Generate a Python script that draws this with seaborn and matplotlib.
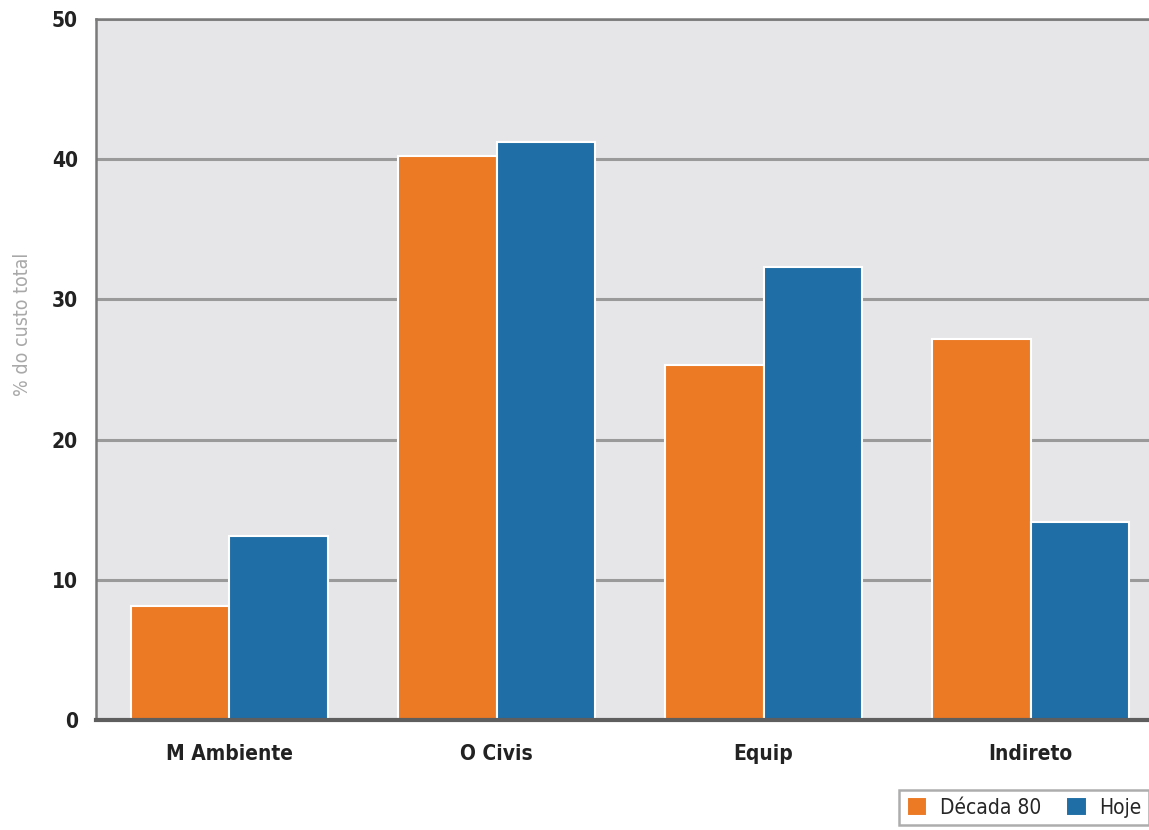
import matplotlib
matplotlib.use("Agg")
import matplotlib.pyplot as plt
from matplotlib import font_manager
import seaborn as sns
import pandas as pd

# ==== DATA ====
categories = ["M Ambiente", "O Civis", "Equip", "Indireto"]
series_names = ["Década 80", "Hoje"]
decada80 = [8.1, 40.2, 25.3, 27.2]
hoje = [13.1, 41.2, 32.3, 14.1]
y_ticks = [0, 10, 20, 30, 40, 50]

ORANGE = "#ec7a24"
BLUE = "#1f6ea5"

df = pd.DataFrame({
    "categoria": categories * 2,
    "serie": [series_names[0]] * len(categories) + [series_names[1]] * len(categories),
    "valor": decada80 + hoje,
})

sns.set_theme(style="white")
names = {f.name for f in font_manager.fontManager.ttflist}
print(sorted(n for n in names if "Cond" in n or "Narrow" in n))
plt.rcParams["font.family"] = ["DejaVu Sans"]
plt.rcParams["font.stretch"] = "condensed"

fig = plt.figure(figsize=(11.49, 8.30), dpi=100)
ax = fig.add_axes([96 / 1149, 1 - 720 / 830, 1068 / 1149, 701 / 830])
ax.set_facecolor("#e6e6e9")

sns.barplot(data=df, x="categoria", y="valor", hue="serie", order=categories,
            hue_order=series_names, palette=[ORANGE, BLUE], saturation=1, width=0.74,
            edgecolor="white", linewidth=1.5, ax=ax, zorder=3)

ax.set_ylim(0, 50)
ax.set_xlim(-0.5, 3.5)
ax.set_yticks(y_ticks)
ax.set_yticklabels([str(t) for t in y_ticks], fontsize=15, fontweight="bold", color="#222222")
ax.tick_params(axis="x", labelsize=15, colors="#222222", length=0, pad=17)
ax.tick_params(axis="y", length=0, pad=13)
for lab in ax.get_xticklabels():
    lab.set_fontweight("bold")

ax.grid(axis="y", color="#9a9a9a", linewidth=2.2, zorder=1)
ax.set_axisbelow(True)

for side in ["left", "top"]:
    ax.spines[side].set_color("#7a7a7a")
    ax.spines[side].set_linewidth(1.8)
ax.spines["right"].set_visible(False)
ax.spines["bottom"].set_color("#5e5e5e")
ax.spines["bottom"].set_linewidth(3)
ax.spines["bottom"].set_zorder(5)

ax.set_xlabel("")
ax.set_ylabel("% do custo total", fontsize=14, color="#a8a8a8")
ax.yaxis.set_label_coords(-0.06, 0.565)

handles, labels = ax.get_legend_handles_labels()
ax.legend(handles, labels, loc="upper right", bbox_to_anchor=(1.0, 1 - 790 / 830),
          bbox_transform=fig.transFigure, ncol=2, frameon=True, fancybox=False,
          edgecolor="#999999", fontsize=15, handlelength=1.0, handleheight=1.0,
          columnspacing=1.2, handletextpad=0.6, borderpad=0.35, borderaxespad=0)
leg = ax.get_legend()
leg.get_frame().set_linewidth(1.8)

fig.savefig("out.png", dpi=100, facecolor="white")
